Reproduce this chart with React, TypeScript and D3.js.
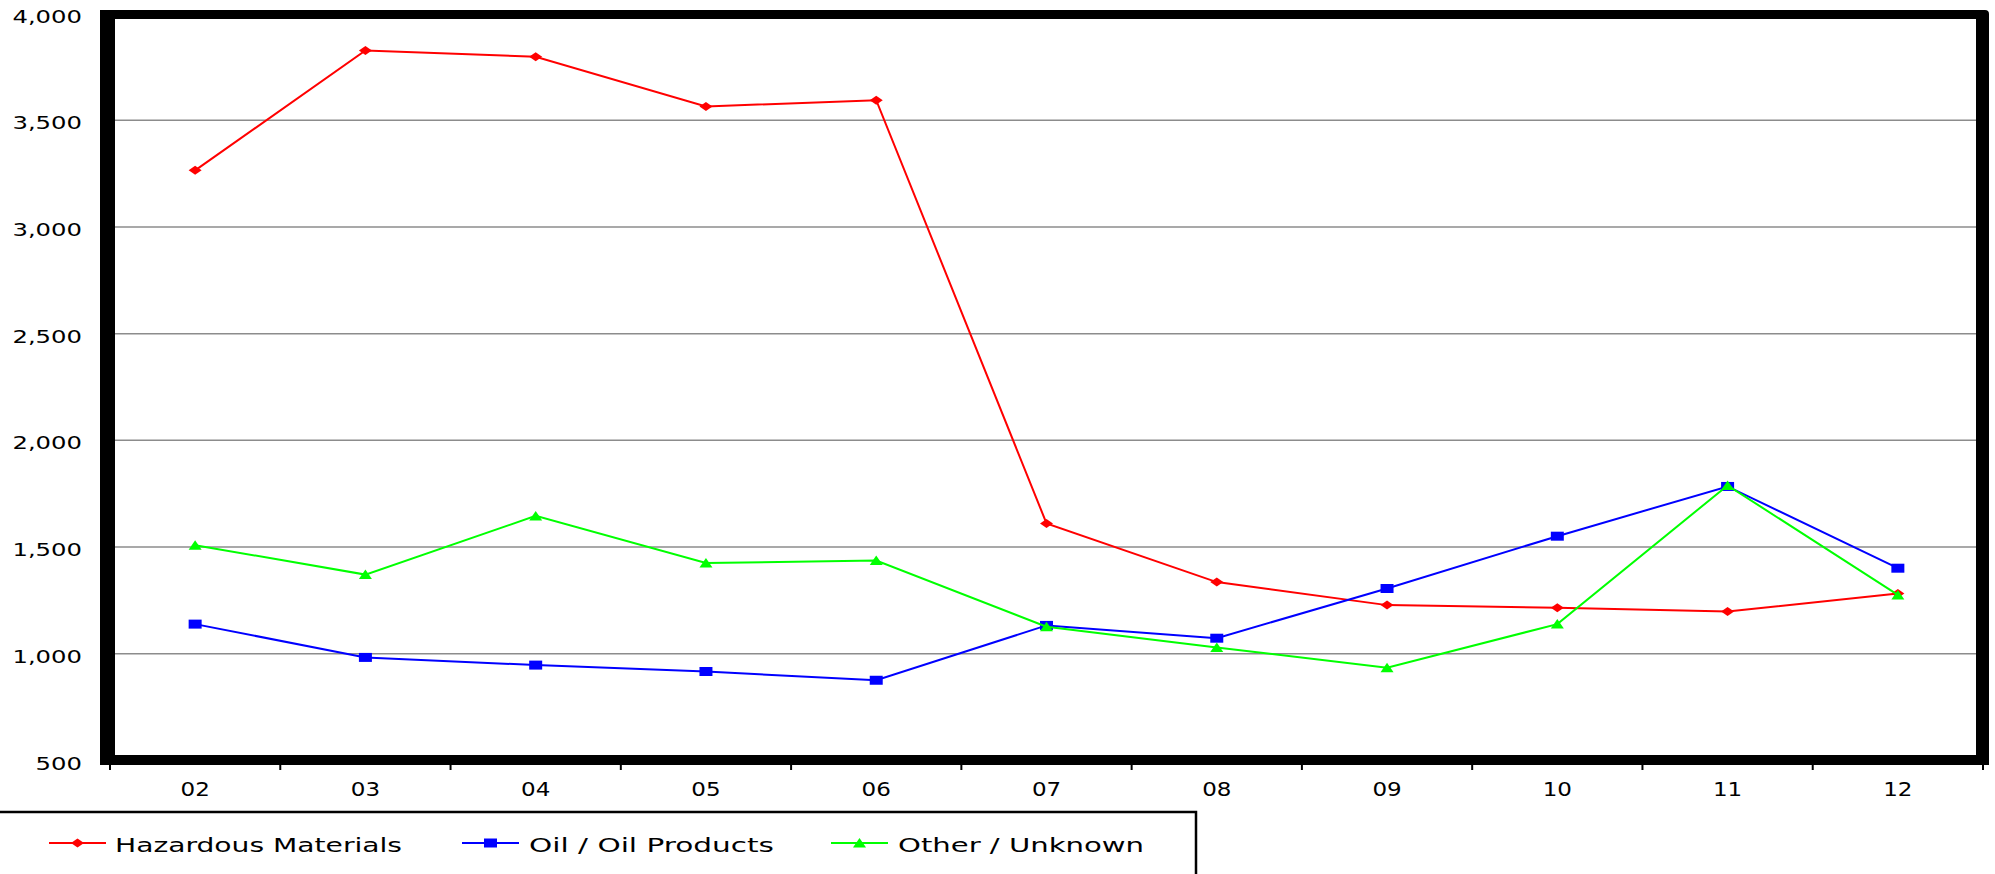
import React from 'react'
import * as d3 from 'd3'

const years = ['02', '03', '04', '05', '06', '07', '08', '09', '10', '11', '12']
const hazardous = [3265, 3827, 3797, 3564, 3594, 1611, 1336, 1228, 1216, 1198, 1282]
const oil = [1139, 983, 947, 917, 876, 1133, 1073, 1306, 1551, 1784, 1401]
const other = [1509, 1371, 1646, 1425, 1437, 1127, 1030, 935, 1139, 1789, 1276]
const yTicks = [500, 1000, 1500, 2000, 2500, 3000, 3500, 4000]

const seriesNames = ['Hazardous Materials', 'Oil / Oil Products', 'Other / Unknown']
const seriesColors = ['#ff0000', '#0000ff', '#00ff00']
const seriesShapes = ['diamond', 'square', 'triangle']

const W = 1995
const H = 874
const FONT = '"DejaVu Sans", Verdana, sans-serif'

const markerPath = (shape: string) => {
    if (shape === 'diamond') return 'M-6.5,0L0,-4.5L6.5,0L0,4.5Z'
    if (shape === 'square') return 'M-6.5,-4.5H6.5V4.5H-6.5Z'
    return 'M0,-5L6.5,4.5L-6.5,4.5Z'
}

// stretched text, glyphs in the source are wider than they are tall
const Stretch: React.FC<{ x: number, y: number, sx: number, size: number, anchor?: string, children: React.ReactNode }> =
    ({ x, y, sx, size, anchor = 'start', children }) => (
        <g transform={`translate(${x},${y}) scale(${sx},1)`}>
            <text x={0} y={0} fontFamily={FONT} fontSize={size} textAnchor={anchor} fill="#000">{children}</text>
        </g>
    )

export default function App() {
    const plot = { left: 110, right: 1983, top: 13.5, bottom: 760.5 }

    const x = d3.scaleBand<string>().domain(years).range([plot.left, plot.right])
    const y = d3.scaleLinear().domain([500, 4000]).range([plot.bottom, plot.top])
    const cx = (d: string) => (x(d) ?? 0) + x.bandwidth() / 2

    const line = d3.line<number>()
        .x((_, i) => cx(years[i]))
        .y(d => y(d))

    const allSeries = [hazardous, oil, other]

    // thick frame round the plot area
    const fo = { l: 100, t: 10, r: 1989, b: 765 }
    const fi = { l: 115, t: 19, r: 1976, b: 755 }
    const framePath = `M${fo.l},${fo.t}H${fo.r - 4}Q${fo.r},${fo.t} ${fo.r},${fo.t + 4}V${fo.b}H${fo.l}Z` +
        `M${fi.l},${fi.t}V${fi.b}H${fi.r}V${fi.t}Z`

    const boundaries = years.map(d => x(d) ?? 0).concat([plot.right])

    const legendItems = [
        { lineX: 49, textX: 115, textW: 287 },
        { lineX: 462, textX: 529, textW: 245 },
        { lineX: 831, textX: 898, textW: 246 },
    ]

    return (
        <svg width={W} height={H} style={{ position: 'absolute', left: 0, top: 0, background: '#fff' }}>
            <rect x={0} y={0} width={W} height={H} fill="#fff" />

            {/* gridlines */}
            {yTicks.filter(t => t > 500 && t < 4000).map(t => (
                <line key={t} x1={fi.l} x2={fi.r} y1={y(t)} y2={y(t)} stroke="#8c8c8c" strokeWidth={1.5} />
            ))}

            {/* series */}
            {allSeries.map((s, si) => (
                <g key={si}>
                    <path d={line(s) ?? ''} fill="none" stroke={seriesColors[si]} strokeWidth={2} />
                    {s.map((v, i) => (
                        <path key={i} d={markerPath(seriesShapes[si])} fill={seriesColors[si]}
                            transform={`translate(${cx(years[i])},${y(v)})`} />
                    ))}
                </g>
            ))}

            <path d={framePath} fill="#000" fillRule="evenodd" />

            {/* x ticks */}
            {boundaries.map((b, i) => (
                <line key={i} x1={b} x2={b} y1={fo.b} y2={fo.b + 5} stroke="#000" strokeWidth={2} />
            ))}

            {/* y labels */}
            {yTicks.map(t => (
                <Stretch key={t} x={82} y={y(t) + 9} sx={1.35} size={18} anchor="end">
                    {d3.format(',')(t)}
                </Stretch>
            ))}

            {/* x labels */}
            {years.map(d => (
                <Stretch key={d} x={cx(d)} y={796} sx={1.15} size={20} anchor="middle">{d}</Stretch>
            ))}

            {/* legend */}
            <path d="M0,812H1196V880" fill="none" stroke="#000" strokeWidth={2.5} />
            {legendItems.map((it, i) => (
                <g key={i}>
                    <line x1={it.lineX} x2={it.lineX + 57} y1={843} y2={843} stroke={seriesColors[i]} strokeWidth={2} />
                    <path d={markerPath(seriesShapes[i])} fill={seriesColors[i]}
                        transform={`translate(${it.lineX + 28.5},843)`} />
                    <text x={it.textX} y={852} fontFamily={FONT} fontSize={20} fill="#000"
                        textLength={it.textW} lengthAdjust="spacingAndGlyphs">{seriesNames[i]}</text>
                </g>
            ))}
        </svg>
    )
}
